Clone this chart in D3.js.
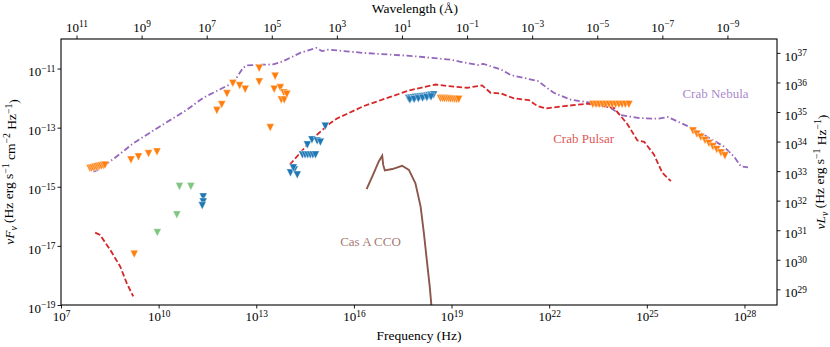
<!DOCTYPE html>
<html>
<head>
<meta charset="utf-8">
<script src="https://cdn.jsdelivr.net/npm/d3@7"></script>
<style>
  body { margin: 0; background: #fff; }
</style>
</head>
<body>
<svg id="chart" width="830" height="347" style="font-family: 'Liberation Serif', 'DejaVu Serif', serif;"></svg>
<script>
// all values are [log10(nu / Hz), log10(nu F_nu)]
const crabNebula = [
  [7.99,-14.49],[8.11,-14.44],[8.66,-14.02],[9.22,-13.53],[10.05,-12.95],[10.86,-12.40],
  [11.37,-11.99],[11.80,-11.75],[12.11,-11.58],[12.29,-11.48],[12.60,-10.97],[12.72,-10.89],
  [13.18,-10.87],[13.52,-10.86],[13.83,-10.75],[14.35,-10.47],[14.85,-10.30],[15.02,-10.41],
  [15.22,-10.36],[16.29,-10.47],[17.83,-10.58],[18.97,-10.70],[19.28,-10.77],[19.80,-10.88],
  [19.98,-10.84],[20.51,-11.03],[20.82,-11.22],[21.65,-11.42],[22.14,-11.82],[22.66,-12.05],
  [23.18,-12.14],[23.89,-12.33],[24.20,-12.57],[24.72,-12.67],[25.34,-12.70],[25.65,-12.64],
  [26.26,-12.95],[26.75,-13.24],[27.37,-13.64],[27.68,-13.98],[27.89,-14.31],[28.11,-14.34]
];
const crabPulsarRadio = [
  [8.05,-16.55],[8.20,-16.63],[8.51,-17.13],[8.82,-17.70],[9.02,-18.26],[9.22,-18.71]
];
const crabPulsar = [
  [14.03,-14.25],[14.35,-13.85],[14.76,-13.34],[15.28,-12.84],[15.48,-12.69],[16.30,-12.27],
  [17.64,-11.76],[18.05,-11.65],[18.51,-11.54],[18.87,-11.59],[19.48,-11.65],[19.94,-11.57],
  [20.20,-11.82],[20.51,-11.84],[20.92,-12.01],[21.38,-12.07],[21.64,-12.27],[21.89,-12.35],
  [22.46,-12.27],[23.18,-12.19],[23.99,-12.33],[24.41,-12.89],[24.71,-13.43],[24.92,-13.48],
  [25.22,-13.91],[25.48,-14.53],[25.74,-14.81]
];
const casACCO = [
  [16.39,-15.08],[16.61,-14.54],[16.76,-14.15],[16.87,-13.95],[16.90,-14.26],[16.95,-14.45],
  [17.18,-14.40],[17.48,-14.29],[17.69,-14.43],[17.89,-14.88],[18.05,-15.67],[18.15,-16.57],
  [18.25,-17.58],[18.33,-18.38],[18.38,-19.00],[18.40,-19.40]
];
const limitsOrange = [
  [7.89,-14.38],[7.94,-14.37],[7.99,-14.36],[8.04,-14.34],[8.09,-14.33],[8.14,-14.31],
  [8.19,-14.30],[8.24,-14.29],[8.30,-14.28],[8.35,-14.27],
  [9.15,-14.09],[9.38,-13.99],[9.69,-13.88],[9.95,-13.82],[9.25,-17.28],
  [11.79,-12.42],[11.94,-12.22],[12.10,-11.85],[12.28,-11.50],[12.49,-11.58],[12.66,-11.70],
  [13.09,-10.99],[13.09,-11.45],[13.58,-11.26],[13.55,-11.70],[13.74,-11.65],[13.85,-11.82],
  [13.77,-12.06],[13.86,-12.06],[13.94,-11.87],[13.43,-13.00],
  [18.66,-12.01],[18.72,-12.01],[18.78,-12.02],[18.85,-12.02],[18.91,-12.02],[18.97,-12.03],
  [19.04,-12.03],[19.10,-12.03],[19.16,-12.04],[19.22,-12.04],
  [23.34,-12.21],[23.44,-12.21],[23.54,-12.21],[23.64,-12.21],[23.74,-12.21],[23.84,-12.21],
  [23.94,-12.21],[24.04,-12.21],[24.14,-12.21],[24.24,-12.21],[24.34,-12.21],[24.45,-12.21],
  [26.42,-13.11],[26.54,-13.22],[26.66,-13.32],[26.79,-13.43],[26.91,-13.53],[27.03,-13.64],
  [27.15,-13.74],[27.28,-13.85],[27.40,-13.95]
];
const limitsBlue = [
  [11.37,-15.34],[11.37,-15.51],[11.34,-15.64],
  [14.05,-14.53],[14.17,-14.43],[14.26,-14.60],[14.14,-14.36],
  [14.42,-13.92],[14.50,-13.92],[14.58,-13.92],[14.66,-13.92],[14.74,-13.92],[14.82,-13.92],
  [14.57,-13.58],[14.71,-13.41],[14.87,-13.45],[14.97,-13.49],[15.12,-12.95],
  [17.68,-12.01],[17.75,-12.00],[17.82,-11.99],[17.89,-11.98],[17.96,-11.97],[18.03,-11.96],
  [18.10,-11.95],[18.17,-11.94],[18.24,-11.93],[18.31,-11.92],[18.38,-11.90],[18.45,-11.89],
  [17.72,-12.06],[17.85,-12.04],[17.98,-12.02],[18.11,-12.00],[18.24,-11.98],[18.37,-11.96]
];
const limitsGreen = [
  [10.64,-14.99],[10.99,-14.99],[10.56,-15.95],[9.96,-16.55]
];
const curveLabels = [
  { text: "Crab Nebula", at: [27.11, -11.99], color: "#9467bd" },
  { text: "Crab Pulsar", at: [23.06, -13.51], color: "#d62728" },
  { text: "Cas A CCO", at: [16.51, -17.00], color: "#8c564b" }
];
const freqTicks = [7, 10, 13, 16, 19, 22, 25, 28];
const fluxTicks = [-19, -17, -15, -13, -11];
const lumTicks = [29, 30, 31, 32, 33, 34, 35, 36, 37];
const waveTicks = [11, 9, 7, 5, 3, 1, -1, -3, -5, -7, -9];
const lumOffset = 47.47;      // log10(nuL_nu / nuF_nu)
const cAngstrom = 2.998e18;   // speed of light in Angstrom/s

const serif = "'Liberation Serif', 'DejaVu Serif', serif";
const margin = { top: 39, right: 53, bottom: 42, left: 61 };
const width = 830 - margin.left - margin.right;
const height = 347 - margin.top - margin.bottom;

const svg = d3.select("#chart");
const g = svg.append("g").attr("transform", `translate(${margin.left},${margin.top})`);

const x = d3.scaleLog().domain([1e7, 1e29]).range([0, width]);
const y = d3.scaleLog().domain([1e-19, 1e-10]).range([height, 0]);
const yR = d3.scaleLog().domain([10 ** (-19 + lumOffset), 10 ** (-10 + lumOffset)]).range([height, 0]);
const xTop = d3.scaleLog().domain([cAngstrom / 1e7, cAngstrom / 1e29]).range([0, width]);

const px = d => x(10 ** d[0]);
const py = d => y(10 ** d[1]);

// power-of-ten tick labels
const powLabel = (sel, exp) => {
  sel.text("");
  sel.append("tspan").text("10");
  sel.append("tspan")
    .attr("dy", "-0.45em")
    .attr("font-size", "0.72em")
    .text(String(exp).replace("-", "\u2212"));
};
const styleAxis = (ax, exps) => {
  ax.attr("font-family", serif);
  ax.select(".domain").remove();
  ax.selectAll(".tick line").attr("stroke", "#000").attr("stroke-width", 0.9);
  ax.selectAll(".tick text")
    .attr("font-size", 13)
    .style("font-family", serif)
    .each(function(d, i) { powLabel(d3.select(this), exps[i]); });
};

const axB = g.append("g").attr("transform", `translate(0,${height})`)
  .call(d3.axisBottom(x).tickValues(freqTicks.map(e => 10 ** e)).tickSize(3.5).tickPadding(3));
styleAxis(axB, freqTicks);

const axL = g.append("g")
  .call(d3.axisLeft(y).tickValues(fluxTicks.map(e => 10 ** e)).tickSize(3.5).tickPadding(2));
styleAxis(axL, fluxTicks);
axL.selectAll(".tick text").attr("dy", "0.55em");

const axR = g.append("g").attr("transform", `translate(${width},0)`)
  .call(d3.axisRight(yR).tickValues(lumTicks.map(e => 10 ** e)).tickSize(3.5).tickPadding(4));
styleAxis(axR, lumTicks);
axR.selectAll(".tick text").attr("dy", "0.55em");

const axT = g.append("g")
  .call(d3.axisTop(xTop).tickValues(waveTicks.map(e => 10 ** e)).tickSize(3.5).tickPadding(4));
styleAxis(axT, waveTicks);

// clip for the curves
g.append("clipPath").attr("id", "plot-clip")
  .append("rect").attr("width", width).attr("height", height);
const plot = g.append("g").attr("clip-path", "url(#plot-clip)");

const line = d3.line().x(px).y(py);

plot.append("path").datum(crabNebula)
  .attr("d", line).attr("fill", "none")
  .attr("stroke", "#9467bd").attr("stroke-width", 1.8)
  .attr("stroke-dasharray", "6,2.6,1.4,2.6");

[crabPulsarRadio, crabPulsar].forEach(seg => {
  plot.append("path").datum(seg)
    .attr("d", line).attr("fill", "none")
    .attr("stroke", "#d62728").attr("stroke-width", 1.8)
    .attr("stroke-dasharray", "5.5,2.5");
});

plot.append("path").datum(casACCO)
  .attr("d", line).attr("fill", "none")
  .attr("stroke", "#8c564b").attr("stroke-width", 1.9);

// upper limits as downward triangles
const h = 3.9;
const tri = `M0,${h}L${-h},${-h}L${h},${-h}Z`;
const drawLimits = (data, color, opacity) => {
  plot.append("g").selectAll("path").data(data).enter().append("path")
    .attr("d", tri)
    .attr("transform", d => `translate(${px(d)},${py(d)})`)
    .attr("fill", color)
    .attr("fill-opacity", opacity)
    .attr("stroke", "#fff").attr("stroke-width", 0.4);
};
drawLimits(limitsGreen, "#2ca02c", 0.6);
drawLimits(limitsOrange, "#ff7f0e", 1);
drawLimits(limitsBlue, "#1f77b4", 1);

g.selectAll(".curve-label").data(curveLabels).enter().append("text")
  .attr("class", "curve-label")
  .attr("x", d => px(d.at)).attr("y", d => py(d.at))
  .attr("text-anchor", "middle")
  .attr("font-size", 13)
  .style("font-family", serif)
  .style("fill", d => d.color)
  .attr("fill-opacity", 0.8)
  .text(d => d.text);

// frame
g.append("rect").attr("width", width).attr("height", height)
  .attr("fill", "none").attr("stroke", "#000").attr("stroke-width", 1.1);

// axis titles
g.append("text").attr("x", width / 2).attr("y", height + 35)
  .attr("text-anchor", "middle").attr("font-size", 13.5)
  .style("font-family", serif)
  .text("Frequency (Hz)");
g.append("text").attr("x", width / 2 - 4).attr("y", -26)
  .attr("text-anchor", "middle").attr("font-size", 13.5)
  .style("font-family", serif)
  .text("Wavelength (\u00c5)");

const addTitle = (tx, parts) => {
  const t = g.append("text")
    .attr("transform", `translate(${tx},${height / 2}) rotate(-90)`)
    .attr("text-anchor", "middle").attr("font-size", 13.5)
    .style("font-family", serif);
  t.append("tspan").attr("font-style", "italic").text(parts[0]);
  t.append("tspan").attr("font-style", "italic").attr("font-size", "0.72em").attr("dy", "0.3em").text("\u03bd");
  t.append("tspan").attr("dy", "-0.3em").text(" (Hz erg s");
  t.append("tspan").attr("font-size", "0.72em").attr("dy", "-0.45em").text("\u22121");
  if (parts[1]) {
    t.append("tspan").attr("dy", "0.45em").text(" cm");
    t.append("tspan").attr("font-size", "0.72em").attr("dy", "-0.45em").text("\u22122");
  }
  t.append("tspan").attr("dy", "0.45em").text(" Hz");
  t.append("tspan").attr("font-size", "0.72em").attr("dy", "-0.45em").text("\u22121");
  t.append("tspan").attr("dy", "0.45em").text(")");
};
addTitle(-47, ["\u03bdF", true]);
addTitle(width + 48, ["\u03bdL", false]);
</script>
</body>
</html>
